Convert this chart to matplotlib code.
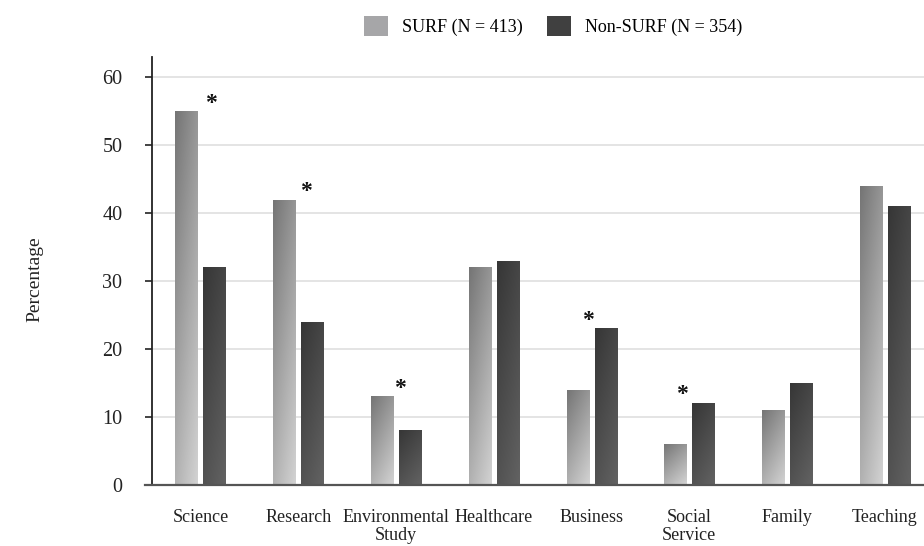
import numpy as np
import matplotlib
matplotlib.use("Agg")
import matplotlib.pyplot as plt
from matplotlib.colors import LinearSegmentedColormap
from matplotlib.patches import Patch

plt.rcParams["font.family"] = ["Liberation Serif", "DejaVu Serif"]

categories = ["Science", "Research", "Environmental\nStudy", "Healthcare",
              "Business", "Social\nService", "Family", "Teaching"]
surf = [55, 42, 13, 32, 14, 6, 11, 44]
non_surf = [32, 24, 8, 33, 23, 12, 15, 41]
significant = [True, True, True, False, True, True, False, False]
yticks = [0, 10, 20, 30, 40, 50, 60]
legend_labels = ["SURF (N = 413)", "Non-SURF (N = 354)"]

# small horizontal nudges for the significance stars (category units)
star_nudge = [0.11, 0.08, 0.04, 0.0, -0.04, -0.075, 0.0, 0.0]

fig = plt.figure(figsize=(9.24, 5.46), dpi=100)
ax = fig.add_axes([151.5 / 924, 61.5 / 546, 1 - 151.5 / 924, 427.5 / 546])

x = np.arange(len(categories))
width = 0.225
offset = 0.143

cmap_surf = LinearSegmentedColormap.from_list("surf", ["#757575", "#d2d2d2"])
cmap_non = LinearSegmentedColormap.from_list("nonsurf", ["#363636", "#626262"])

# diagonal shading field: darker at top-left, lighter toward bottom-right
u = np.linspace(0, 1, 20)[None, :]
v = np.linspace(0, 1, 80)[:, None]
shade = 0.35 * u + 0.65 * v

bars_s = ax.bar(x - offset, surf, width, facecolor="#a6a6a8",
                edgecolor="#d8d8d8", linewidth=0.6, zorder=2)
bars_n = ax.bar(x + offset, non_surf, width, facecolor="#404040",
                edgecolor="#8a8a8a", linewidth=0.6, zorder=2)

for bars, cmap in ((bars_s, cmap_surf), (bars_n, cmap_non)):
    for b in bars:
        x0, y0 = b.get_x(), b.get_y()
        w, h = b.get_width(), b.get_height()
        im = ax.imshow(shade, cmap=cmap, vmin=0, vmax=1, origin="upper",
                       extent=(x0, x0 + w, y0, y0 + h), aspect="auto",
                       interpolation="bilinear", zorder=2.5)
        im.set_clip_path(b)

for i, sig in enumerate(significant):
    if sig:
        top = max(surf[i], non_surf[i])
        ax.text(i + star_nudge[i], top + 1.2, "*", ha="center", va="center",
                fontsize=17, fontweight="bold", color="#111111", zorder=4)

ax.set_xlim(-0.5, 7.40)
ax.set_ylim(0, 63)
ax.set_yticks(yticks)
ax.set_xticks(x)
ax.set_xticklabels(categories, fontsize=13, color="#222222", linespacing=1.05)
ax.tick_params(axis="x", length=0, pad=18)
ax.tick_params(axis="y", length=5, width=1.2, color="#222222",
               labelsize=14.5, labelcolor="#222222", pad=16)

ax.grid(axis="y", color="#e2e2e2", linewidth=1.3, zorder=0)
ax.set_axisbelow(True)
for s in ("top", "right"):
    ax.spines[s].set_visible(False)
ax.spines["left"].set_color("#222222")
ax.spines["left"].set_linewidth(1.3)
ax.spines["bottom"].set_color("#555555")
ax.spines["bottom"].set_linewidth(1.6)
ax.spines["bottom"].set_bounds(-0.565, 7.40)

ax.set_ylabel("Percentage", fontsize=14, color="#222222")
ax.yaxis.set_label_coords(-0.14, 0.48)

handles = [Patch(facecolor="#a6a6a8", edgecolor="none"),
           Patch(facecolor="#404040", edgecolor="none")]
fig.legend(handles, legend_labels, loc="center", bbox_to_anchor=(0.599, 0.952),
           ncol=2, frameon=False, fontsize=13, handlelength=1.33,
           handleheight=1.33, handletextpad=0.78, columnspacing=1.33,
           borderpad=0)

fig.savefig("out.png", dpi=100)
